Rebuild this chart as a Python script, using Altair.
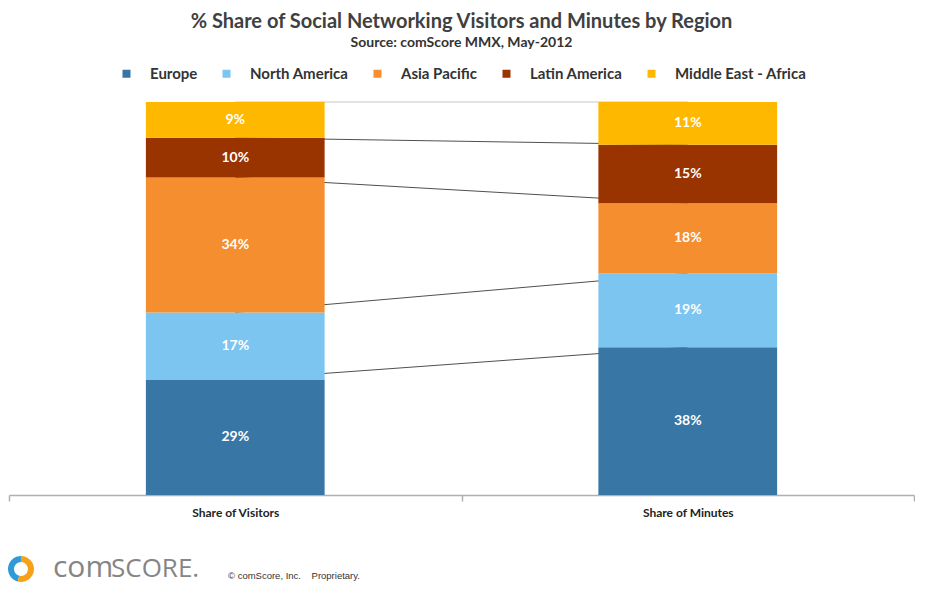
import altair as alt
import pandas as pd

categories = ["Share of Visitors", "Share of Minutes"]
regions = ["Europe", "North America", "Asia Pacific", "Latin America", "Middle East - Africa"]
colors = ["#3876A5", "#7BC5F0", "#F58E2F", "#993300", "#FFB800"]
visitors = [29, 17, 34, 10, 9]
minutes = [38, 19, 18, 15, 11]

title_text = "% Share of Social Networking Visitors and Minutes by Region"
subtitle_text = "Source: comScore MMX, May-2012"
footer_text = "© comScore, Inc.\u00a0\u00a0\u00a0\u00a0Proprietary."

rows = []
for cat, vals in zip(categories, [visitors, minutes]):
    total = sum(vals)
    cum = 0
    for reg, v in zip(regions, vals):
        lo = cum / total
        cum += v
        hi = cum / total
        rows.append({"cat": cat, "region": reg, "value": v, "lo": lo, "hi": hi,
                     "mid": (lo + hi) / 2, "label": f"{v}%",
                     "lcolor": "#c8c8c8" if reg == regions[-1] else "#505050"})
df = pd.DataFrame(rows)

W, H = 905, 393
FONT = "Lato"

xenc = alt.X("cat:N", sort=categories, title=None,
             scale=alt.Scale(paddingInner=0, paddingOuter=0),
             axis=alt.Axis(labelAngle=0, tickBand="extent", domainColor="#b0b0b0",
                           domainWidth=1.5, tickColor="#b0b0b0", tickWidth=1.5, tickSize=6,
                           labelFont=FONT, labelFontWeight="bold", labelFontSize=12,
                           labelColor="#222222", labelPadding=6))
yscale = alt.Scale(domain=[0, 1], nice=False)

lines = alt.Chart(df).mark_line(strokeWidth=1).encode(
    x=xenc,
    y=alt.Y("hi:Q", scale=yscale, axis=None),
    detail="region:N",
    color=alt.Color("lcolor:N", scale=None),
)

bars = alt.Chart(df).mark_bar(width=alt.RelativeBandSize(0.395)).encode(
    x=xenc,
    y=alt.Y("lo:Q", scale=yscale, axis=None),
    y2="hi:Q",
    color=alt.Color("region:N", sort=regions,
                    scale=alt.Scale(domain=regions, range=colors),
                    legend=alt.Legend(title=None, orient="none", direction="horizontal",
                                      legendX=110, legendY=-36, symbolType="square",
                                      symbolSize=64, symbolStrokeWidth=0,
                                      labelFont=FONT, labelFontWeight="bold",
                                      labelFontSize=15, labelColor="#333333",
                                      labelOffset=16, columnPadding=21)),
)

texts = alt.Chart(df).mark_text(font=FONT, fontWeight="bold", fontSize=14, color="white").encode(
    x=xenc,
    y=alt.Y("mid:Q", scale=yscale, axis=None),
    text="label:N",
)

footer_df = pd.DataFrame({"a": [0]})
logo_blue = alt.Chart(footer_df).mark_arc(
    innerRadius=7, outerRadius=13, theta=3.4, theta2=6.28, color="#2E9BD8"
).encode(x=alt.value(12), y=alt.value(467))
logo_orange = alt.Chart(footer_df).mark_arc(
    innerRadius=7, outerRadius=13, theta=0, theta2=3.4, color="#F7A11A"
).encode(x=alt.value(12), y=alt.value(467))
com = alt.Chart(footer_df).mark_text(
    text="com", font="Open Sans", fontSize=30, color="#858585", align="left", baseline="alphabetic"
).encode(x=alt.value(44), y=alt.value(475))
score = alt.Chart(footer_df).mark_text(
    text="SCORE.", font="Open Sans", fontSize=26, color="#858585", align="left", baseline="alphabetic"
).encode(x=alt.value(102), y=alt.value(475))
copy = alt.Chart(footer_df).mark_text(
    text=footer_text, font="Liberation Sans", fontSize=9.5,
    color="#333333", align="left", baseline="middle"
).encode(x=alt.value(219), y=alt.value(474))

chart = alt.layer(lines, bars, texts, logo_blue, logo_orange, com, score, copy).properties(
    width=W, height=H, padding={"left": 0, "top": 4, "right": 0, "bottom": 6},
    title=alt.TitleParams(text=title_text, subtitle=subtitle_text, anchor="middle",
                          font=FONT, fontSize=20, fontWeight="bold", color="#404040",
                          subtitleFont=FONT, subtitleFontSize=14, subtitleFontWeight="bold",
                          subtitleColor="#333333", subtitlePadding=4, offset=16),
).configure_view(stroke=None)

chart.save("out.html", embed_options={"renderer": "svg", "actions": False})
